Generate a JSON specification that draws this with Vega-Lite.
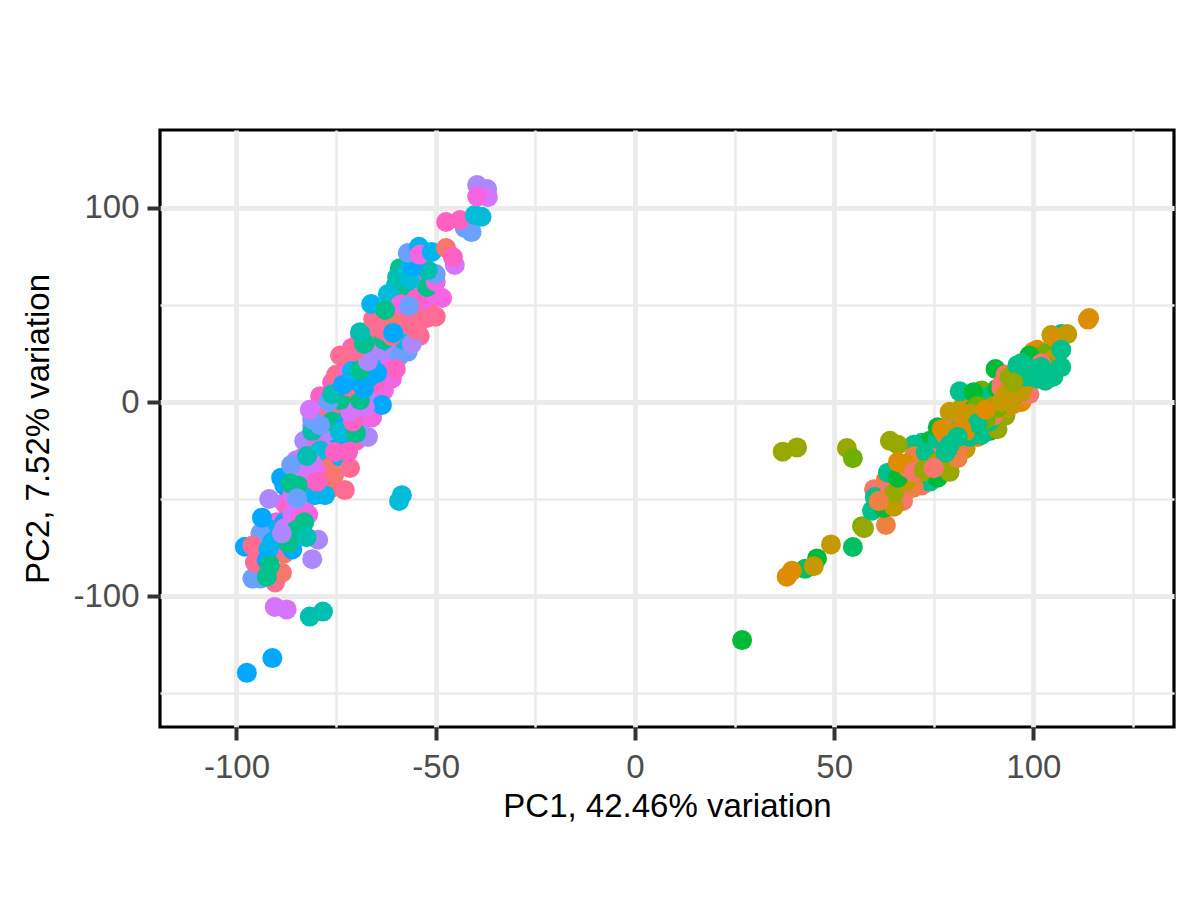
{"$schema":"https://vega.github.io/schema/vega-lite/v6.json","width":1014,"height":597,"autosize":{"type":"none"},"padding":{"left":160,"top":130,"right":26,"bottom":173},"background":"white","config":{"view":{"stroke":"#000000","strokeWidth":3.2,"fill":"white"}},
"data":{"values":[
{"x":-85,"y":-30,"g":"o"},{"x":-83,"y":-20,"g":"o"},{"x":-81,"y":-30,"g":"q"},{"x":-79,"y":-20,"g":"r"},{"x":-77,"y":-28,"g":"s"},{"x":-75,"y":-18,"g":"q"},{"x":-73,"y":-22,"g":"s"},{"x":-70,"y":-20,"g":"r"},{"x":-69,"y":-12,"g":"o"},{"x":-81,"y":-12,"g":"p"},{"x":-78,"y":-8,"g":"q"},{"x":-75,"y":-6,"g":"r"},{"x":-72,"y":-3,"g":"s"},{"x":-69,"y":-6,"g":"r"},{"x":-66,"y":-8,"g":"q"},{"x":-79,"y":3,"g":"r"},{"x":-76,"y":10,"g":"r"},{"x":-74,"y":5,"g":"q"},{"x":-71,"y":3,"g":"p"},{"x":-68,"y":3,"g":"r"},{"x":-65,"y":2,"g":"o"},{"x":-63,"y":6,"g":"q"},{"x":-75,"y":14,"g":"s"},{"x":-72,"y":19,"g":"r"},{"x":-70,"y":12,"g":"q"},{"x":-67,"y":17,"g":"s"},{"x":-64,"y":12,"g":"p"},{"x":-61,"y":12,"g":"q"},{"x":-60,"y":21,"g":"q"},{"x":-74,"y":24,"g":"s"},{"x":-71,"y":28,"g":"r"},{"x":-69,"y":24,"g":"s"},{"x":-66,"y":27,"g":"q"},{"x":-63,"y":25,"g":"r"},{"x":-60,"y":30,"g":"o"},{"x":-57,"y":26,"g":"n"},{"x":-69,"y":33,"g":"s"},{"x":-66,"y":37,"g":"s"},{"x":-63,"y":33,"g":"r"},{"x":-60,"y":37,"g":"q"},{"x":-57,"y":35,"g":"a"},{"x":-54,"y":34,"g":"s"},{"x":-64,"y":46,"g":"q"},{"x":-61,"y":48,"g":"q"},{"x":-58,"y":44,"g":"r"},{"x":-55,"y":48,"g":"q"},{"x":-52,"y":48,"g":"s"},{"x":-50,"y":44,"g":"s"},{"x":-59,"y":55,"g":"r"},{"x":-56,"y":57,"g":"q"},{"x":-53,"y":56,"g":"r"},{"x":-50,"y":56,"g":"q"},{"x":-60,"y":60,"g":"j"},{"x":-57,"y":60,"g":"i"},{"x":-54,"y":62,"g":"q"},{"x":-51,"y":63,"g":"n"},{"x":-88,"y":-52,"g":"q"},{"x":-85,"y":-44,"g":"q"},{"x":-83,"y":-52,"g":"p"},{"x":-81,"y":-44,"g":"s"},{"x":-78,"y":-42,"g":"r"},{"x":-76,"y":-44,"g":"a"},{"x":-90,"y":-62,"g":"q"},{"x":-87,"y":-55,"g":"r"},{"x":-85,"y":-62,"g":"p"},{"x":-82,"y":-58,"g":"q"},{"x":-90,"y":-72,"g":"s"},{"x":-88,"y":-78,"g":"a"},{"x":-91,"y":-66,"g":"l"},{"x":-88,"y":-62,"g":"m"},{"x":-89,"y":-74,"g":"r"},
{"x":-75,"y":-20,"g":"s"},{"x":-78,"y":-22,"g":"p"},{"x":-82,"y":-25,"g":"o"},{"x":-80,"y":-18,"g":"r"},{"x":-76,"y":-12,"g":"s"},{"x":-72,"y":-8,"g":"i"},{"x":-77,"y":-5,"g":"s"},{"x":-73,"y":0,"g":"r"},{"x":-70,"y":4,"g":"s"},{"x":-68,"y":8,"g":"k"},{"x":-66,"y":14,"g":"r"},{"x":-72,"y":14,"g":"q"},{"x":-70,"y":20,"g":"s"},{"x":-67,"y":24,"g":"q"},{"x":-63,"y":20,"g":"p"},{"x":-64,"y":26,"g":"o"},{"x":-72,"y":24,"g":"s"},{"x":-68,"y":28,"g":"r"},{"x":-61,"y":30,"g":"k"},{"x":-60,"y":26,"g":"o"},{"x":-59,"y":24,"g":"n"},{"x":-63,"y":32,"g":"i"},
{"x":-85,"y":-52,"g":"p"},{"x":-83,"y":-46,"g":"q"},{"x":-86,"y":-58,"g":"p"},{"x":-80,"y":-40,"g":"r"},{"x":-84,"y":-36,"g":"p"},{"x":-88,"y":-43,"g":"m"},{"x":-84,"y":-60,"g":"q"},{"x":-79,"y":-30,"g":"o"},{"x":-77,"y":-36,"g":"q"},{"x":-76,"y":-30,"g":"a"},{"x":-83,"y":-28,"g":"p"},{"x":-79,"y":-25,"g":"k"},{"x":-74,"y":-28,"g":"l"},{"x":-74,"y":-20,"g":"m"},{"x":-77,"y":-15,"g":"o"},{"x":-76,"y":-10,"g":"i"},{"x":-81,"y":-15,"g":"j"},{"x":-79,"y":-12,"g":"n"},{"x":-73,"y":-13,"g":"m"},
{"x":-97.9,"y":-74.6,"g":"m"},{"x":-90.3,"y":-93,"g":"s"},{"x":-88.6,"y":-88,"g":"a"},{"x":-96,"y":-91,"g":"n"},{"x":-94,"y":-91,"g":"n"},{"x":-95.4,"y":-82.7,"g":"s"},{"x":-86,"y":-76,"g":"m"},{"x":-81,"y":-81,"g":"o"},{"x":-79.5,"y":-71,"g":"o"},{"x":-94,"y":-67.7,"g":"n"},{"x":-93.6,"y":-59.6,"g":"m"},{"x":-91,"y":-72,"g":"l"},{"x":-88,"y":-65,"g":"p"},{"x":-87,"y":-72.9,"g":"i"},{"x":-85,"y":-66,"g":"i"},{"x":-83,"y":-62,"g":"i"},{"x":-82.4,"y":-69.7,"g":"j"},{"x":-96,"y":-74,"g":"s"},{"x":-92,"y":-76,"g":"l"},{"x":-92.4,"y":-81.4,"g":"m"},{"x":-91.6,"y":-84,"g":"i"},{"x":-92.4,"y":-90,"g":"i"},{"x":-88.6,"y":-67.7,"g":"o"},{"x":-90.4,"y":-105.6,"g":"p"},{"x":-87.4,"y":-106.9,"g":"p"},{"x":-81.6,"y":-110.6,"g":"j"},{"x":-78.3,"y":-108,"g":"j"},{"x":-91,"y":-132,"g":"m"},{"x":-97.4,"y":-139.6,"g":"m"},{"x":-58.5,"y":-48,"g":"k"},{"x":-59.2,"y":-51,"g":"k"},
{"x":-91.8,"y":-50,"g":"o"},{"x":-86,"y":-48,"g":"p"},{"x":-80.3,"y":-48,"g":"l"},{"x":-77.8,"y":-48,"g":"l"},{"x":-88.8,"y":-39,"g":"m"},{"x":-86.3,"y":-32.5,"g":"n"},{"x":-84.6,"y":-43,"g":"i"},{"x":-86.5,"y":-42,"g":"i"},{"x":-84.8,"y":-49.6,"g":"n"},{"x":-72.8,"y":-45.4,"g":"s"},{"x":-75.5,"y":-37.6,"g":"a"},{"x":-71.5,"y":-34,"g":"s"},{"x":-79.8,"y":-41,"g":"r"},{"x":-81,"y":-31.6,"g":"p"},{"x":-82.3,"y":-27.8,"g":"j"},{"x":-67,"y":-18,"g":"o"},{"x":-75.3,"y":-25.7,"g":"r"},{"x":-72,"y":-25.7,"g":"r"},{"x":-74,"y":-15.5,"g":"k"},{"x":-70,"y":-16,"g":"i"},{"x":-63.5,"y":-1.5,"g":"m"},{"x":-81,"y":-9,"g":"n"},{"x":-81.6,"y":-4,"g":"p"},{"x":-70.8,"y":-10,"g":"r"},{"x":-71.5,"y":-5,"g":"p"},{"x":-67.8,"y":-2.6,"g":"p"},
{"x":-74,"y":1,"g":"i"},{"x":-77,"y":0,"g":"n"},{"x":-69,"y":1,"g":"i"},{"x":-72,"y":8,"g":"s"},{"x":-76,"y":4,"g":"j"},{"x":-65,"y":10,"g":"r"},{"x":-62,"y":16,"g":"q"},{"x":-60,"y":17,"g":"r"},{"x":-66,"y":18,"g":"k"},{"x":-73.3,"y":8.8,"g":"m"},{"x":-69,"y":9.8,"g":"m"},{"x":-66.5,"y":13,"g":"m"},{"x":-64.7,"y":15,"g":"m"},{"x":-68,"y":7,"g":"m"},{"x":-71,"y":16,"g":"l"},{"x":-69,"y":16.5,"g":"i"},{"x":-67,"y":21,"g":"o"},
{"x":-58,"y":32,"g":"k"},{"x":-56,"y":30,"g":"o"},{"x":-61,"y":34,"g":"s"},{"x":-70,"y":27,"g":"s"},{"x":-68,"y":30,"g":"j"},{"x":-67.8,"y":30.4,"g":"i"},{"x":-69,"y":36,"g":"j"},{"x":-63,"y":40,"g":"s"},{"x":-65.7,"y":42.8,"g":"s"},{"x":-63.2,"y":37,"g":"s"},{"x":-60,"y":40,"g":"s"},{"x":-57,"y":40,"g":"s"},{"x":-54.7,"y":37.1,"g":"s"},{"x":-52.2,"y":43.3,"g":"s"},{"x":-55,"y":45,"g":"s"},{"x":-61,"y":44,"g":"a"},{"x":-60.7,"y":35.6,"g":"m"},
{"x":-66.2,"y":50.5,"g":"l"},{"x":-62,"y":55.7,"g":"k"},{"x":-59,"y":50,"g":"q"},{"x":-62.7,"y":47.4,"g":"i"},{"x":-53,"y":52.6,"g":"q"},{"x":-48.4,"y":53.6,"g":"q"},{"x":-55,"y":53,"g":"r"},{"x":-56.7,"y":49.5,"g":"n"},{"x":-52.2,"y":59.3,"g":"i"},{"x":-50,"y":62,"g":"q"},{"x":-50,"y":66,"g":"n"},{"x":-52,"y":68,"g":"j"},{"x":-59,"y":69,"g":"i"},{"x":-59.7,"y":64.4,"g":"j"},{"x":-56.5,"y":63,"g":"k"},{"x":-57,"y":68,"g":"k"},{"x":-55.7,"y":70,"g":"m"},{"x":-57,"y":76.8,"g":"n"},{"x":-54.2,"y":80,"g":"l"},{"x":-54,"y":76,"g":"q"},{"x":-51,"y":77.3,"g":"l"},{"x":-47.4,"y":79.4,"g":"a"},{"x":-45.2,"y":70.6,"g":"p"},{"x":-45.7,"y":74.7,"g":"r"},{"x":-41,"y":87.6,"g":"n"},{"x":-42.7,"y":89.7,"g":"n"},{"x":-47.4,"y":92.8,"g":"r"},{"x":-43.9,"y":93.8,"g":"r"},{"x":-40.2,"y":96.4,"g":"k"},{"x":-38.5,"y":95.5,"g":"k"},{"x":-39.6,"y":111.8,"g":"o"},{"x":-37.1,"y":109.8,"g":"o"},{"x":-36.9,"y":105.6,"g":"p"},{"x":-39.6,"y":106,"g":"q"},
{"x":70,"y":-38,"g":"b"},{"x":73,"y":-30,"g":"a"},{"x":75,"y":-28,"g":"b"},{"x":78,"y":-31,"g":"a"},{"x":80,"y":-25,"g":"b"},{"x":83,"y":-24,"g":"d"},{"x":84,"y":-13,"g":"b"},{"x":87,"y":-14,"g":"d"},{"x":88,"y":-12,"g":"a"},{"x":90,"y":-11,"g":"d"},{"x":84,"y":-2,"g":"b"},{"x":86,"y":1,"g":"a"},{"x":88,"y":1,"g":"b"},{"x":90,"y":0,"g":"a"},{"x":93,"y":-4,"g":"g"},{"x":95,"y":-1,"g":"b"},{"x":97,"y":0,"g":"c"},{"x":99,"y":4,"g":"a"},{"x":96,"y":13,"g":"b"},{"x":98,"y":20,"g":"a"},{"x":101,"y":22,"g":"b"},{"x":103,"y":23,"g":"d"},{"x":105,"y":19,"g":"e"},{"x":106,"y":24,"g":"d"},{"x":102,"y":26,"g":"a"},{"x":60,"y":-45,"g":"a"},{"x":63,"y":-40,"g":"b"},{"x":66,"y":-46,"g":"d"},{"x":68,"y":-46,"g":"a"},{"x":72,"y":-40,"g":"c"},{"x":74,"y":-39,"g":"c"},{"x":76,"y":-38,"g":"d"},{"x":77,"y":-29,"g":"d"},{"x":79,"y":-27,"g":"b"},{"x":81,"y":-24,"g":"c"},{"x":72,"y":-21,"g":"i"},{"x":74,"y":-20,"g":"g"},{"x":86,"y":-18,"g":"c"},{"x":89,"y":-15,"g":"g"},{"x":82,"y":-3,"g":"d"},{"x":87,"y":6,"g":"f"},{"x":90,"y":4,"g":"f"},{"x":93,"y":12,"g":"f"},{"x":96,"y":16,"g":"f"},
{"x":26.9,"y":-122.7,"g":"g"},{"x":42.7,"y":-86,"g":"h"},{"x":45.7,"y":-80.6,"g":"g"},{"x":44.9,"y":-84.6,"g":"d"},{"x":38.1,"y":-90,"g":"c"},{"x":39.4,"y":-87,"g":"c"},{"x":49.2,"y":-73.4,"g":"d"},{"x":54.7,"y":-74.7,"g":"h"},{"x":57,"y":-64,"g":"f"},{"x":57.5,"y":-65,"g":"e"},{"x":63,"y":-63.4,"g":"b"},{"x":37.1,"y":-25.6,"g":"e"},{"x":40.7,"y":-23.4,"g":"e"},{"x":53.2,"y":-23.7,"g":"e"},{"x":54.7,"y":-29,"g":"f"},{"x":70,"y":-22,"g":"i"},{"x":64,"y":-20,"g":"e"},{"x":66,"y":-22,"g":"e"},
{"x":59.5,"y":-56,"g":"i"},{"x":60.2,"y":-49,"g":"i"},{"x":62.5,"y":-54.6,"g":"g"},{"x":64,"y":-44,"g":"a"},{"x":67.3,"y":-51,"g":"a"},{"x":65,"y":-54,"g":"d"},{"x":65,"y":-47,"g":"e"},{"x":61.2,"y":-51,"g":"b"},{"x":63.5,"y":-36.4,"g":"i"},{"x":72,"y":-43,"g":"a"},{"x":74,"y":-41,"g":"i"},{"x":76,"y":-39,"g":"g"},{"x":79,"y":-36,"g":"e"},{"x":70,"y":-44,"g":"b"},{"x":68,"y":-41,"g":"d"},{"x":66,"y":-39,"g":"g"},{"x":68.5,"y":-34,"g":"b"},{"x":66,"y":-31,"g":"c"},{"x":72,"y":-36,"g":"d"},{"x":74,"y":-33,"g":"e"},{"x":81,"y":-29,"g":"b"},{"x":70,"y":-28,"g":"b"},{"x":73,"y":-26,"g":"i"},{"x":75,"y":-25,"g":"i"},{"x":77,"y":-22,"g":"a"},{"x":76,"y":-19,"g":"i"},{"x":78,"y":-17,"g":"b"},{"x":76,"y":-13,"g":"g"},{"x":79,"y":-23,"g":"g"},{"x":80,"y":-20,"g":"a"},{"x":82,"y":-22,"g":"b"},{"x":77,"y":-14,"g":"c"},{"x":84,"y":-18,"g":"i"},{"x":87,"y":-17,"g":"i"},{"x":91,"y":-14,"g":"e"},{"x":89,"y":-10,"g":"i"},{"x":93,"y":-7,"g":"e"},{"x":89,"y":-5,"g":"d"},{"x":86,"y":-9,"g":"c"},{"x":82,"y":-12,"g":"c"},{"x":80,"y":-8,"g":"b"},{"x":83,"y":-5,"g":"c"},{"x":79,"y":-5,"g":"d"},{"x":85,"y":-4,"g":"g"},{"x":81,"y":-15,"g":"i"},{"x":85,"y":-12,"g":"g"},{"x":87,"y":-8,"g":"c"},{"x":90,"y":-7,"g":"b"},
{"x":89,"y":3,"g":"i"},{"x":86,"y":3,"g":"i"},{"x":81.5,"y":5.5,"g":"i"},{"x":85,"y":5,"g":"g"},{"x":91,"y":7,"g":"g"},{"x":92,"y":3,"g":"g"},{"x":96,"y":3,"g":"a"},{"x":90.5,"y":17,"g":"g"},{"x":93,"y":14,"g":"a"},{"x":95,"y":12,"g":"b"},{"x":92,"y":9,"g":"a"},{"x":94,"y":9,"g":"g"},{"x":95,"y":3,"g":"f"},{"x":98,"y":10,"g":"c"},{"x":96,"y":7,"g":"a"},{"x":92,"y":7,"g":"a"},{"x":97,"y":6,"g":"e"},{"x":94,"y":13,"g":"e"},{"x":93,"y":-3,"g":"d"},{"x":90,"y":-2,"g":"e"},{"x":88,"y":-6,"g":"f"},{"x":86,"y":-6,"g":"f"},{"x":92,"y":-1,"g":"c"},{"x":94,"y":-2,"g":"d"},{"x":94,"y":2,"g":"d"},{"x":97,"y":5,"g":"d"},{"x":86,"y":-2,"g":"f"},{"x":91,"y":-3,"g":"f"},{"x":84,"y":-6,"g":"d"},{"x":88,"y":-9,"g":"f"},
{"x":100,"y":26,"g":"b"},{"x":101,"y":27,"g":"c"},{"x":103,"y":25,"g":"f"},{"x":105,"y":22,"g":"d"},{"x":107,"y":35,"g":"i"},{"x":104.5,"y":34.5,"g":"d"},{"x":106,"y":33,"g":"c"},{"x":108.5,"y":35,"g":"d"},{"x":103,"y":19,"g":"f"},{"x":99,"y":24,"g":"g"},{"x":102,"y":20,"g":"a"},{"x":97,"y":20,"g":"i"},{"x":98,"y":13,"g":"i"},{"x":99,"y":15,"g":"i"},{"x":101,"y":12,"g":"i"},{"x":103,"y":11,"g":"i"},{"x":105,"y":13,"g":"i"},{"x":96,"y":19,"g":"i"},{"x":98,"y":18,"g":"i"},{"x":100,"y":17,"g":"i"},{"x":102,"y":18,"g":"i"},{"x":104,"y":15,"g":"i"},{"x":107,"y":18,"g":"i"},{"x":101,"y":16,"g":"i"},{"x":107,"y":27,"g":"i"},{"x":114,"y":43.3,"g":"c"},{"x":113.7,"y":42.5,"g":"c"},
{"x":68,"y":-32,"g":"c"},{"x":70,"y":-36,"g":"a"},{"x":72.5,"y":-35,"g":"e"},{"x":76,"y":-31,"g":"e"},{"x":75,"y":-34,"g":"a"},{"x":78,"y":-26,"g":"i"},{"x":83,"y":-15,"g":"c"},{"x":86,"y":-11,"g":"i"},{"x":80,"y":-16,"g":"d"},{"x":82,"y":-14,"g":"c"},{"x":79,"y":-22,"g":"i"},{"x":88,"y":-4,"g":"c"},{"x":92,"y":0,"g":"d"},{"x":93,"y":4,"g":"d"},{"x":95,"y":10,"g":"e"},
{"x":61.2,"y":-51,"g":"b"},{"x":75,"y":-34,"g":"a"},{"x":81,"y":-18,"g":"i"}
]},
"layer":[
{"mark":{"type":"point","opacity":0},"encoding":{
"x":{"field":"x","type":"quantitative","scale":{"domain":[-119.2,135.3],"nice":false,"zero":false},"axis":{"orient":"bottom","values":[-75,-25,25,75,125],"grid":true,"gridColor":"#EBEBEB","gridWidth":2.5,"labels":false,"ticks":false,"domain":false,"title":null}},
"y":{"field":"y","type":"quantitative","scale":{"domain":[-167.5,140.2],"nice":false,"zero":false},"axis":{"orient":"left","values":[-150,-50,50],"grid":true,"gridColor":"#EBEBEB","gridWidth":2.5,"labels":false,"ticks":false,"domain":false,"title":null}}}},
{"mark":{"type":"circle","opacity":1,"size":400},"encoding":{
"x":{"field":"x","type":"quantitative","scale":{"domain":[-119.2,135.3],"nice":false,"zero":false},"axis":{"orient":"bottom","values":[-100,-50,0,50,100],"format":"d","labelExpr":"replace(datum.label,'−','-')","grid":true,"gridColor":"#EBEBEB","gridWidth":4.8,"tickColor":"#333333","tickWidth":4,"tickSize":13,"labelColor":"#4D4D4D","labelFont":"Liberation Sans","labelFontSize":33,"labelPadding":11,"domain":false,"title":"PC1, 42.46% variation","titleFont":"Liberation Sans","titleFontSize":33,"titleFontWeight":"normal","titleColor":"#000000","titlePadding":6}},
"y":{"field":"y","type":"quantitative","scale":{"domain":[-167.5,140.2],"nice":false,"zero":false},"axis":{"orient":"left","values":[-100,0,100],"format":"d","labelExpr":"replace(datum.label,'−','-')","grid":true,"gridColor":"#EBEBEB","gridWidth":4.8,"tickColor":"#333333","tickWidth":4,"tickSize":13,"labelColor":"#4D4D4D","labelFont":"Liberation Sans","labelFontSize":33,"labelPadding":8,"domain":false,"title":"PC2, 7.52% variation","titleFont":"Liberation Sans","titleFontSize":33,"titleFontWeight":"normal","titleColor":"#000000","titlePadding":17}},
"color":{"field":"g","type":"nominal","legend":null,"scale":{"domain":["a","b","c","d","e","f","g","h","i","j","k","l","m","n","o","p","q","r","s"],"range":["#F8766D","#EE8042","#DE8C00","#C49A00","#97A900","#6FB000","#00BA38","#00BF65","#00C08B","#00BFB0","#00BCD8","#00B4F0","#00A9FF","#6BA0FF","#AC88FF","#D575FE","#F564E3","#FF61C3","#FF6C91"]}}}}
],
"resolve":{"axis":{"x":"independent","y":"independent"}}}
